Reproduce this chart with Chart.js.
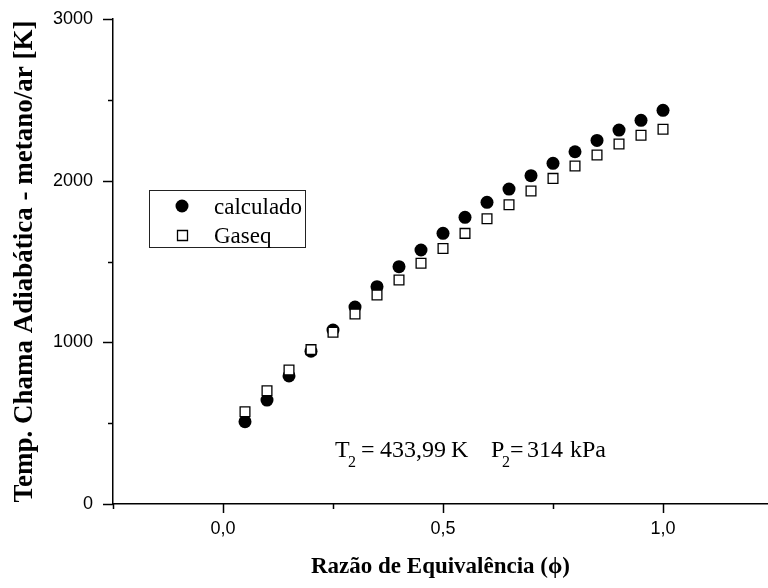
<!DOCTYPE html>
<html>
<head>
<meta charset="utf-8">
<script src="https://cdn.jsdelivr.net/npm/chart.js@4.4.0/dist/chart.umd.min.js"></script>
<style>
  html, body { margin: 0; padding: 0; background: #fff; overflow: hidden; }
  #wrap { width: 768px; height: 588px; position: relative; }
</style>
</head>
<body>
<div id="wrap"><canvas id="c" width="768" height="588"></canvas></div>
<script>
// ---- data ----
const phi = [0.05, 0.10, 0.15, 0.20, 0.25, 0.30, 0.35, 0.40, 0.45, 0.50,
             0.55, 0.60, 0.65, 0.70, 0.75, 0.80, 0.85, 0.90, 0.95, 1.00];
const calculado = [509, 643, 792, 945, 1076, 1218, 1344, 1468, 1571, 1674,
                   1773, 1866, 1948, 2031, 2107, 2179, 2249, 2313, 2373, 2435];
const gaseq = [571, 701, 829, 955, 1062, 1175, 1293, 1386, 1489, 1581,
               1674, 1765, 1851, 1936, 2014, 2091, 2159, 2227, 2281, 2318];
const seriesNames = ['calculado', 'Gaseq'];
const xTicks = [-0.25, 0, 0.25, 0.5, 0.75, 1.0];
const yTicks = [0, 500, 1000, 1500, 2000, 2500, 3000];
const xTitle = 'Razão de Equivalência (\u03d5)';
const yTitle = 'Temp. Chama Adiabática - metano/ar [K]';
const noteT = ['T', '2', '=', '433,99', 'K'];
const noteP = ['P', '2', '=', '314', 'kPa'];

const fmt = v => v.toFixed(1).replace('.', ',');

const tickMarks = {
  id: 'tickMarks',
  afterDraw(chart) {
    const ctx = chart.ctx, xs = chart.scales.x, ys = chart.scales.y;
    const a = chart.chartArea;
    ctx.save();
    ctx.strokeStyle = '#000';
    ctx.lineWidth = 1.5;
    yTicks.forEach(v => {
      const y = Math.round(ys.getPixelForValue(v)) + 0.5;
      const len = v % 1000 === 0 ? 10 : 5;
      ctx.beginPath(); ctx.moveTo(a.left - len, y); ctx.lineTo(a.left, y); ctx.stroke();
    });
    xTicks.forEach(v => {
      const x = Math.round(xs.getPixelForValue(v)) + 0.5;
      const len = Math.abs(v * 2 - Math.round(v * 2)) < 1e-9 ? 9 : 5;
      ctx.beginPath(); ctx.moveTo(x, a.bottom); ctx.lineTo(x, a.bottom + len); ctx.stroke();
    });
    ctx.restore();
  }
};

const legendBox = {
  id: 'legendBox',
  afterDraw(chart) {
    const ctx = chart.ctx;
    ctx.save();
    ctx.strokeStyle = '#222';
    ctx.lineWidth = 1;
    ctx.strokeRect(149.5, 190.5, 156, 57);
    ctx.font = '23px "Liberation Serif"';
    ctx.fillStyle = '#000';
    ctx.textBaseline = 'alphabetic';
    const rows = [206, 235];
    chart.data.datasets.slice().sort((p, q) => p.legendIndex - q.legendIndex).forEach((ds, i) => {
      const y = rows[i];
      ctx.beginPath();
      if (ds.pointStyle === 'circle') {
        ctx.arc(182, y, 6.5, 0, Math.PI * 2);
        ctx.fillStyle = ds.pointBackgroundColor; ctx.fill();
      } else {
        ctx.rect(177.5, y - 4.5, 10, 10);
        ctx.fillStyle = ds.pointBackgroundColor; ctx.fill();
        ctx.lineWidth = ds.pointBorderWidth; ctx.strokeStyle = ds.pointBorderColor; ctx.stroke();
      }
      ctx.fillStyle = '#000';
      ctx.fillText(ds.label, 214, y + 7.5);
    });
    ctx.restore();
  }
};

const note = {
  id: 'note',
  afterDraw(chart) {
    const ctx = chart.ctx;
    ctx.save();
    ctx.fillStyle = '#000';
    ctx.textBaseline = 'alphabetic';
    const big = '24px "Liberation Serif"', small = '16px "Liberation Serif"';
    const draw = (p, xs) => {
      ctx.font = big; ctx.fillText(p[0], xs[0], 457);
      ctx.font = small; ctx.fillText(p[1], xs[1], 467);
      ctx.font = big;
      ctx.fillText(p[2], xs[2], 457);
      ctx.fillText(p[3], xs[3], 457);
      ctx.fillText(p[4], xs[4], 457);
    };
    draw(noteT, [335, 348, 361, 380, 451]);
    draw(noteP, [491, 502, 510, 527, 570]);
    ctx.restore();
  }
};

new Chart(document.getElementById('c'), {
  type: 'scatter',
  data: {
    datasets: [
      {
        label: seriesNames[0], legendIndex: 0, order: 1,
        data: phi.map((x, i) => ({ x, y: calculado[i] })),
        pointStyle: 'circle', pointRadius: 6.5,
        pointBackgroundColor: '#000', pointBorderColor: '#000', pointBorderWidth: 0,
        backgroundColor: '#000', borderColor: '#000', showLine: false
      },
      {
        label: seriesNames[1], legendIndex: 1, order: 0,
        data: phi.map((x, i) => ({ x, y: gaseq[i] })),
        pointStyle: 'rect', pointRadius: 6.9,
        pointBackgroundColor: '#fff', pointBorderColor: '#000', pointBorderWidth: 1.3,
        backgroundColor: '#fff', borderColor: '#000', showLine: false
      }
    ]
  },
  options: {
    responsive: false,
    animation: false,
    events: [],
    layout: { autoPadding: false, padding: { top: 19, right: 0, left: 0, bottom: 0 } },
    plugins: { legend: { display: false }, tooltip: { enabled: false } },
    scales: {
      x: {
        type: 'linear', min: -0.25, max: 1.2386,
        afterBuildTicks(s) { s.ticks = xTicks.map(v => ({ value: v })); },
        afterFit(s) { s.height = 84; s.paddingLeft = 0; s.paddingRight = 0; },
        grid: { display: false, drawTicks: false },
        border: { display: true, color: '#000', width: 1.5 },
        ticks: {
          padding: 14, color: '#000', maxRotation: 0, autoSkip: false,
          font: { family: '"Liberation Sans"', size: 18 },
          callback: v => (Math.abs(v * 2 - Math.round(v * 2)) < 1e-9 && v >= 0) ? fmt(v) : ''
        },
        title: {
          display: true, text: xTitle, color: '#000',
          font: { family: '"Liberation Serif"', size: 23, weight: 'bold' },
          padding: { top: 0, bottom: 7 }
        }
      },
      y: {
        type: 'linear', min: 0, max: 3000,
        afterBuildTicks(s) { s.ticks = yTicks.map(v => ({ value: v })); },
        afterFit(s) { s.width = 113; s.paddingTop = 0; s.paddingBottom = 0; },
        grid: { display: false, drawTicks: false },
        border: { display: true, color: '#000', width: 1.5 },
        ticks: {
          padding: 20, color: '#000', autoSkip: false,
          font: { family: '"Liberation Sans"', size: 18 },
          callback: v => v % 1000 === 0 ? String(v) : ''
        },
        title: {
          display: true, text: yTitle, color: '#000',
          font: { family: '"Liberation Serif"', size: 27, weight: 'bold' },
          padding: { top: 9, bottom: 0 }
        }
      }
    }
  },
  plugins: [tickMarks, legendBox, note]
});
</script>
</body>
</html>
